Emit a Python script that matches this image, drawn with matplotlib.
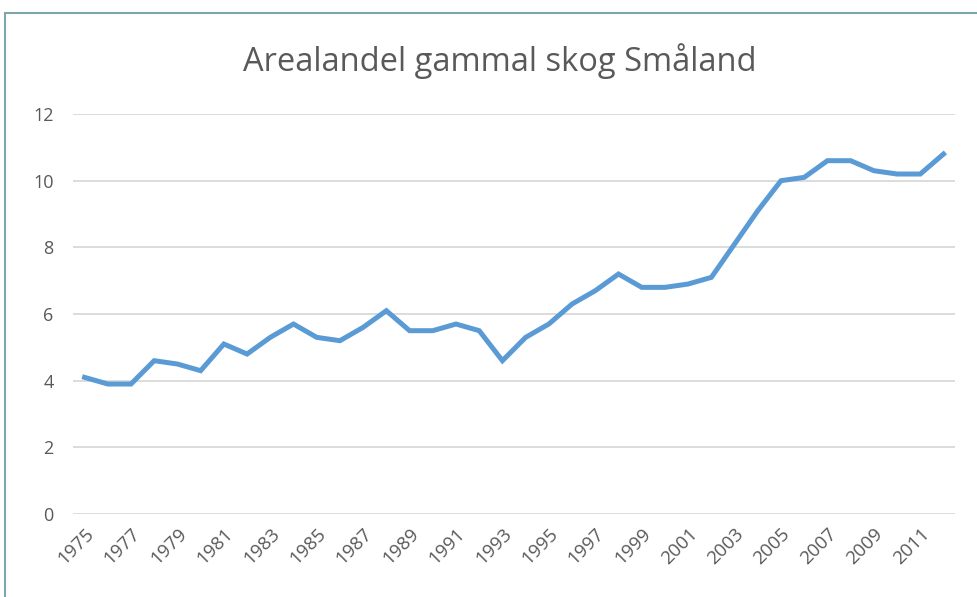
import matplotlib
matplotlib.use("Agg")
import matplotlib.pyplot as plt
from matplotlib.patches import Rectangle

years = list(range(1975, 2013))
andel = [4.1, 3.9, 3.9, 4.6, 4.5, 4.3, 5.1, 4.8, 5.3, 5.7,
         5.3, 5.2, 5.6, 6.1, 5.5, 5.5, 5.7, 5.5, 4.6, 5.3,
         5.7, 6.3, 6.7, 7.2, 6.8, 6.8, 6.9, 7.1, 8.1, 9.1,
         10.0, 10.1, 10.6, 10.6, 10.3, 10.2, 10.2, 10.8]
yticks = [0, 2, 4, 6, 8, 10, 12]

plt.rcParams['font.family'] = ['Open Sans', 'DejaVu Sans']
grey = '#595959'

fig = plt.figure(figsize=(9.78, 5.97), dpi=100)
ax = fig.add_axes([0.0746, 0.139, 0.902, 0.670])

x = list(range(len(years)))
ax.plot(x, andel, color='#5B9BD5', lw=3.6, solid_joinstyle='miter')

ax.set_xlim(-0.5, len(years) - 0.5)
ax.set_ylim(0, 12)
ax.set_yticks(yticks)
ax.set_yticklabels([str(v) for v in yticks], color=grey, fontsize=13)
ax.set_xticks(x[::2])
ax.set_xticklabels([str(y) for y in years[::2]], rotation=45, ha='right',
                   va='top', rotation_mode='anchor', color=grey, fontsize=13.5)
ax.tick_params(length=0, pad=8)
ax.tick_params(axis='y', pad=14)
ax.grid(axis='y', color='#d9d9d9', lw=1.3)
ax.set_axisbelow(True)
for s in ax.spines.values():
    s.set_visible(False)

fig.text(0.511, 0.897, 'Arealandel gammal skog Småland', ha='center',
         va='center', fontsize=23.5, color=grey)

# ramen runt diagrammet
fig.patches.append(Rectangle((5 / 978, -0.05), 1.1, 1 - 13 / 597 + 0.05,
                             transform=fig.transFigure, fill=False,
                             edgecolor='#7FA6AA', lw=1.5))

fig.savefig('out.png', dpi=100)
